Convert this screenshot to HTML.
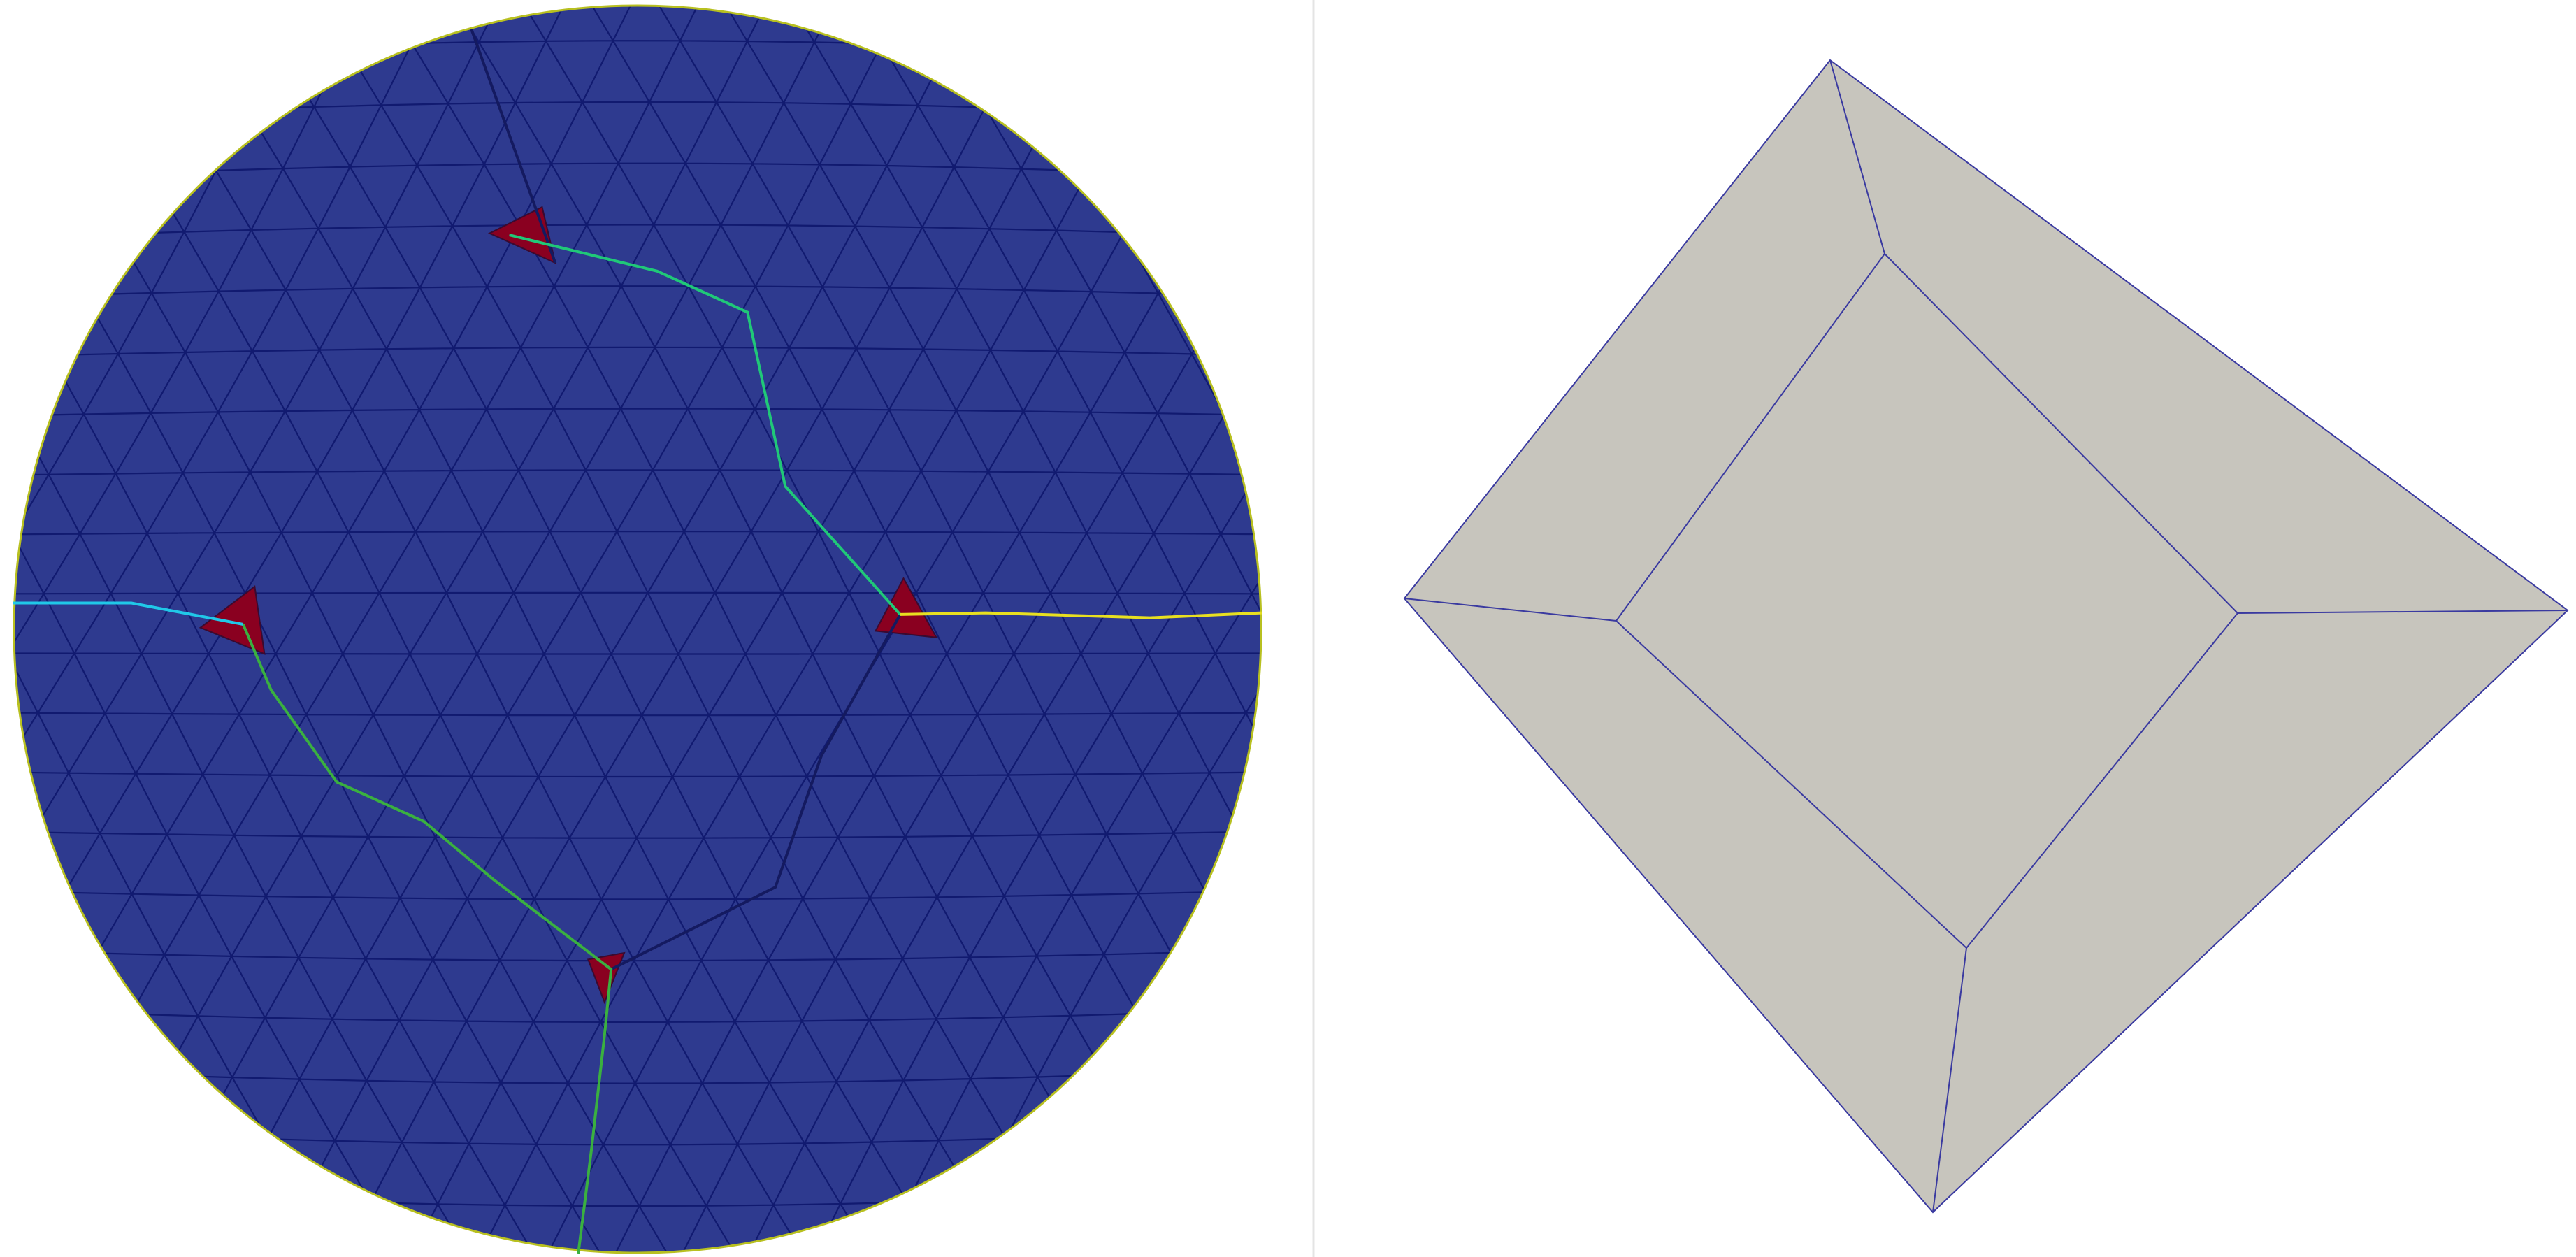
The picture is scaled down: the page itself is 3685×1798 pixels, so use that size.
<!DOCTYPE html>
<html><head><meta charset="utf-8"><style>
html,body{margin:0;padding:0;background:#fff;width:3685px;height:1798px;overflow:hidden}
svg{display:block;overflow:hidden}
</style></head><body>
<svg id="fig" width="3685" height="1798" viewBox="0 0 3685 1798" xmlns="http://www.w3.org/2000/svg">
<defs><clipPath id="disk"><circle cx="912" cy="900" r="893"/></clipPath></defs>
<line x1="1879" y1="0" x2="1879" y2="1798" stroke="#e4e4e4" stroke-width="3"/>
<g id="left">
<circle cx="912" cy="900" r="893" fill="#2e3a8f"/>
<g id="mesh" clip-path="url(#disk)" stroke="#111a70" stroke-width="2.2" fill="none"></g>
<g id="reds"></g>
<g id="paths" fill="none"></g>
</g>
<g id="right" stroke="#3a3aa0" stroke-width="2" fill="#c7c5bd"></g>
</svg>
<script>
const S=2.35;
const redTris=[[[298,142],[330,126],[338,160]],[[122,382],[155,357],[161,398]],[[533,384],[550,352],[570,388]],[[358,584],[380,580],[368,610]]];
const pathYellow=[[548,374],[600,373],[700,376],[768,373]];
const pathCyan=[[8,367],[80,367],[148,380]];
const pathGreenLow=[[148,380],[165,420],[205,476],[258,500],[300,535],[372,590],[368,630],[360,700],[352,763]];
const pathGreenTop=[[310,143],[400,165],[455,190],[478,296],[548,374]];
const pathNavyTop=[[287,18],[338,160]];
const pathNavyLow=[[548,374],[500,460],[472,540],[372,590]];
const outerQuad=[[2618,86],[3673,873],[2765,1734],[2009,856]];
const innerQuad=[[2696,363],[3201,877],[2813,1356],[2312,888]];
const NS='http://www.w3.org/2000/svg';
function pts(a,s){return a.map(p=>(p[0]*s).toFixed(1)+','+(p[1]*s).toFixed(1)).join(' ');}
const mesh=document.getElementById('mesh');
const h=84,w=96,nodes=[];
for(let r=0;r<25;r++){nodes[r]=[];for(let c=0;c<23;c++){
 let x=(c-1)*w+(r%2?w/2:0)+10, y=(r-1)*h+10;
 const dx=x-912, dy=y-900;
 y+=-dy*0.0*1 + 40*Math.cos(dx/700)*(dy/900);
 x+=Math.sin(y/300)*15;
 nodes[r][c]=[x,y];}}
let d='';
for(let r=0;r<nodes.length;r++)for(let c=0;c<nodes[r].length;c++){
 const p=nodes[r][c];
 if(c+1<nodes[r].length){const q=nodes[r][c+1];d+=`M${p[0].toFixed(1)},${p[1].toFixed(1)}L${q[0].toFixed(1)},${q[1].toFixed(1)}`;}
 if(r+1<nodes.length){const ks=(r%2)?[c,c+1]:[c-1,c];
  for(const k of ks){if(k>=0&&k<nodes[r+1].length){const q=nodes[r+1][k];d+=`M${p[0].toFixed(1)},${p[1].toFixed(1)}L${q[0].toFixed(1)},${q[1].toFixed(1)}`;}}}
}
const mp=document.createElementNS(NS,'path');mp.setAttribute('d',d);


mesh.appendChild(mp);
const rim=document.createElementNS(NS,'circle');
rim.setAttribute('cx',912);rim.setAttribute('cy',900);rim.setAttribute('r',892);rim.setAttribute('stroke','#b8c020');rim.setAttribute('stroke-width','3');rim.setAttribute('fill','none');


document.getElementById('left').insertBefore(rim,document.getElementById('reds'));
const reds=document.getElementById('reds');
redTris.forEach((t,i)=>{const el=document.createElementNS(NS,'polygon');el.setAttribute('points',pts(t,S));el.setAttribute('fill','#8a0020');el.setAttribute('stroke','#3a0a30');el.setAttribute('stroke-width','2');


reds.appendChild(el);});
const paths=document.getElementById('paths');
[[pathNavyTop,'#141a60','navy-path-top'],[pathNavyLow,'#141a60','navy-path-low'],[pathGreenTop,'#20c878','green-path-top'],[pathGreenLow,'#3ab040','green-path-low'],[pathCyan,'#20c8e8','cyan-path'],[pathYellow,'#e8e020','yellow-path']].forEach(([a,c,n])=>{
 const el=document.createElementNS(NS,'polyline');el.setAttribute('points',pts(a,S));el.setAttribute('stroke',c);el.setAttribute('stroke-width','4');
 
 
 paths.appendChild(el);});
const right=document.getElementById('right');
const o=document.createElementNS(NS,'polygon');o.setAttribute('points',pts(outerQuad,1));


right.appendChild(o);
const inn=document.createElementNS(NS,'polygon');inn.setAttribute('points',pts(innerQuad,1));


right.appendChild(inn);
outerQuad.forEach((p,i)=>{const q=innerQuad[i];const l=document.createElementNS(NS,'line');
 l.setAttribute('x1',p[0]);l.setAttribute('y1',p[1]);l.setAttribute('x2',q[0]);l.setAttribute('y2',q[1]);
 
 
 right.appendChild(l);});
</script>
</body></html>
